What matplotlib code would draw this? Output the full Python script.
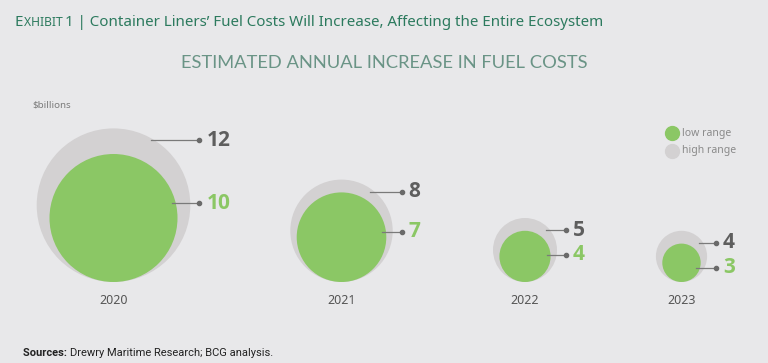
import matplotlib
matplotlib.use("Agg")
import matplotlib.pyplot as plt
from matplotlib.patches import Circle
import numpy as np

# data ($billions)
years = ["2020", "2021", "2022", "2023"]
low_range = [10, 7, 4, 3]
high_range = [12, 8, 5, 4]

# layout (pixels)
centers_x = [113.5, 341.5, 525, 681.5]
low_label_gap = [63, 40, 25, 25]
px_per_unit = 6.4
base_y = 282

bg = "#E8E8EA"
green = "#8BC765"
grey = "#D3D1D2"
num_grey = "#5E5E5E"
title_green = "#2C7A5E"

fig = plt.figure(figsize=(7.68, 3.63), dpi=100, facecolor=bg)
ax = fig.add_axes([0, 0, 1, 1])
ax.set_xlim(0, 768)
ax.set_ylim(363, 0)
ax.set_aspect("equal")
ax.axis("off")
ax.set_facecolor(bg)


def text_run(x, y, pieces, **kw):
    # draw text pieces one after another on the same baseline
    fig.canvas.draw()
    r = fig.canvas.get_renderer()
    inv = ax.transData.inverted()
    for s, extra in pieces:
        opts = dict(kw)
        opts.update(extra)
        t = ax.text(x, y, s, ha="left", va="baseline", **opts)
        bb = t.get_window_extent(renderer=r)
        x = inv.transform((bb.x1, bb.y0))[0]


# headline with small caps "EXHIBIT"
tf = dict(family="Noto Sans", color=title_green)
text_run(15, 25.5, [("E", dict(size=10.9)), ("XHIBIT ", dict(size=8.7)),
                    ("1 | Container Liners\u2019 Fuel Costs Will Increase, Affecting the Entire Ecosystem",
                     dict(size=10.9))], **tf)

ax.text(384.5, 62.5, "ESTIMATED ANNUAL INCREASE IN FUEL COSTS", ha="center", va="center",
        family="Lato", size=13.2, color="#6A9486")

ax.text(32, 105.5, "$billions", ha="left", va="center", family="Noto Sans",
        size=7, color="#7A7A7A")

for yr, lo, hi, cx, gap in zip(years, low_range, high_range, centers_x, low_label_gap):
    r_hi = hi * px_per_unit
    r_lo = lo * px_per_unit
    cy_hi = base_y - r_hi
    cy_lo = base_y - r_lo
    ax.add_patch(Circle((cx, cy_hi), r_hi, facecolor=grey, edgecolor="none", zorder=1))
    ax.add_patch(Circle((cx, cy_lo), r_lo, facecolor=green, edgecolor="none", zorder=2))

    dot_x = cx + r_hi + 9
    y_hi = base_y - 2 * r_hi + 12
    y_lo = y_hi + gap
    for yy, ccy, rr, val, col in [(y_hi, cy_hi, r_hi, hi, num_grey),
                                  (y_lo, cy_lo, r_lo, lo, green)]:
        dy = yy - ccy
        edge = cx + np.sqrt(max(rr ** 2 - dy ** 2, 0)) - 4
        ax.plot([edge, dot_x], [yy, yy], color="#7A7A7A", lw=0.9, zorder=3)
        ax.plot(dot_x, yy, "o", ms=3, color="#6A6A6A", zorder=4)
        ax.text(dot_x + 7, yy, str(val), ha="left", va="center",
                family=["Open Sans", "DejaVu Sans"], weight="bold", size=15,
                color=col, zorder=4)

    ax.text(cx, 300, yr, ha="center", va="center", family="Noto Sans", size=9,
            color="#555555")

# legend
ax.plot(672, 133.3, "o", ms=10, color=green)
ax.plot(672, 150.7, "o", ms=10, color=grey)
ax.text(682, 133.3, "low range", ha="left", va="center", family="Noto Sans",
        size=7.5, color="#8A8A8A")
ax.text(682, 150.7, "high range", ha="left", va="center", family="Noto Sans",
        size=7.5, color="#8A8A8A")

text_run(23, 356.5, [("Sources: ", dict(weight="bold")),
                     ("Drewry Maritime Research; BCG analysis.", {})],
         family=["Roboto", "DejaVu Sans"], size=8, color="#222222")

fig.savefig("out.png", dpi=100, facecolor=bg)
